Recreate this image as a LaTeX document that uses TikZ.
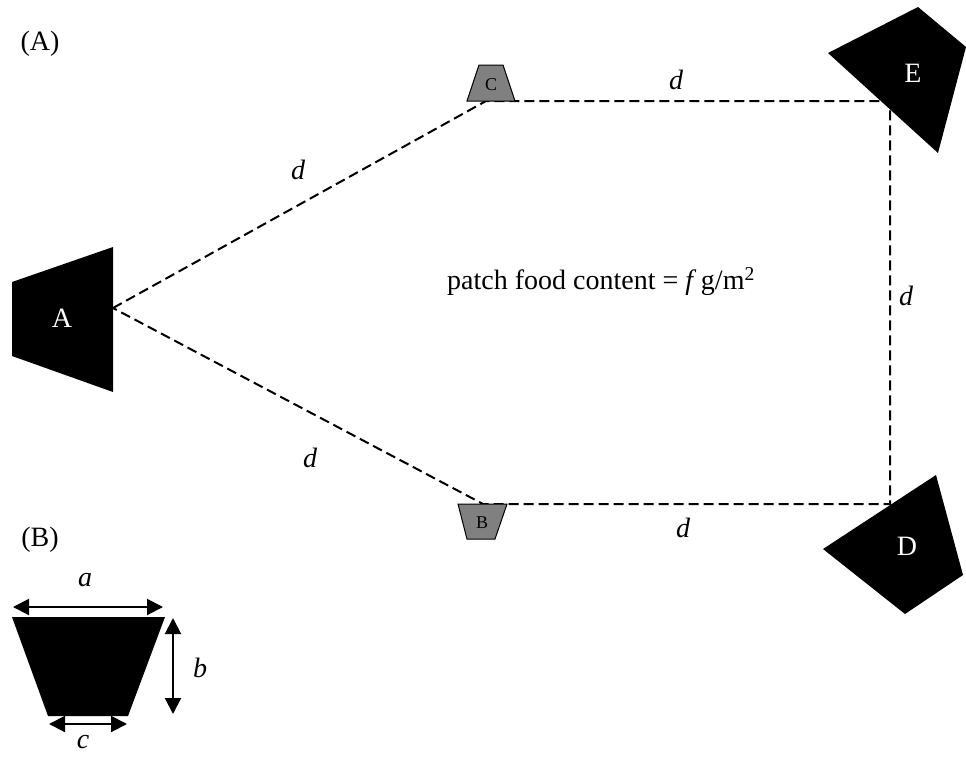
\documentclass[tikz,border=0pt]{standalone}
\usepackage{fontspec}
\setmainfont{Liberation Serif}
\usetikzlibrary{arrows.meta}
\begin{document}
\begin{tikzpicture}[x=1pt,y=-1pt,
  every node/.style={inner sep=0pt,font=\fontsize{28}{32}\selectfont},
  dashline/.style={draw=black,line width=2pt,dash pattern=on 10pt off 5pt},
  blackshape/.style={fill=black},
  greyshape/.style={fill=gray,draw=black,line width=1pt},
  wlabel/.style={text=white},
  small/.style={font=\fontsize{18}{20}\selectfont},
  dimarrow/.style={line width=2pt,{Triangle[length=16pt,width=16pt]}-{Triangle[length=16pt,width=16pt]}},
  itlab/.style={font=\fontsize{28}{32}\selectfont\itshape}]
\useasboundingbox (0,0) rectangle (966,758);

% connection points
\coordinate (Aport) at (113,308);
\coordinate (Cport) at (486,101);
\coordinate (Bport) at (483,504);
\coordinate (Eport) at (890,101);
\coordinate (Dport) at (890,504);

% dashed paths
\draw[dashline] (Aport) -- (Cport) -- (Eport) -- (Dport) -- (Bport) -- (Aport);

% shape A
\fill[blackshape] (12,282) -- (113,247) -- (113,392) -- (12,356) -- cycle;
\node[wlabel] (A) at (62,318) {A};

% shape C
\filldraw[greyshape] (479,65) -- (503,65) -- (515,101) -- (467,101) -- cycle;
\node[small] (C) at (491,85) {C};

% shape B
\filldraw[greyshape] (458,504) -- (507,504) -- (495,539) -- (467,539) -- cycle;
\node[small] (B) at (482,523) {B};

% shape E
\fill[blackshape] (918,7) -- (966,47) -- (938,153) -- (828,53) -- cycle;
\node[wlabel] (E) at (913,73) {E};

% shape D
\fill[blackshape] (936,475) -- (963,575) -- (905,614) -- (823,549) -- cycle;
\node[wlabel] (D) at (907,546) {D};

% d labels
\node[itlab] (d1) at (298,170) {d};
\node[itlab] (d2) at (676,80) {d};
\node[itlab] (d3) at (906,296) {d};
\node[itlab] (d4) at (310,458) {d};
\node[itlab] (d5) at (683,528) {d};

% centre text
\node (food) at (601,282) {patch food content = \textit{f}\,g/m\textsuperscript{2}};

% panel labels
\node (panA) at (40,44) {(A)};
\node (panB) at (40,540) {(B)};

% legend trapezoid
\fill[blackshape] (12,617) -- (165,617) -- (128,716) -- (48,716) -- cycle;
\coordinate (aL) at (13,607);
\coordinate (aR) at (163,607);
\coordinate (bT) at (173,618);
\coordinate (bB) at (173,714);
\coordinate (cL) at (49,724);
\coordinate (cR) at (127,724);
\draw[dimarrow] (aL) -- (aR);
\draw[dimarrow] (bT) -- (bB);
\draw[dimarrow] (cL) -- (cR);
\node[itlab] (la) at (85,580) {a};
\node[itlab] (lb) at (200,668) {b};
\node[itlab] (lc) at (83,742) {c};
\end{tikzpicture}
\end{document}
